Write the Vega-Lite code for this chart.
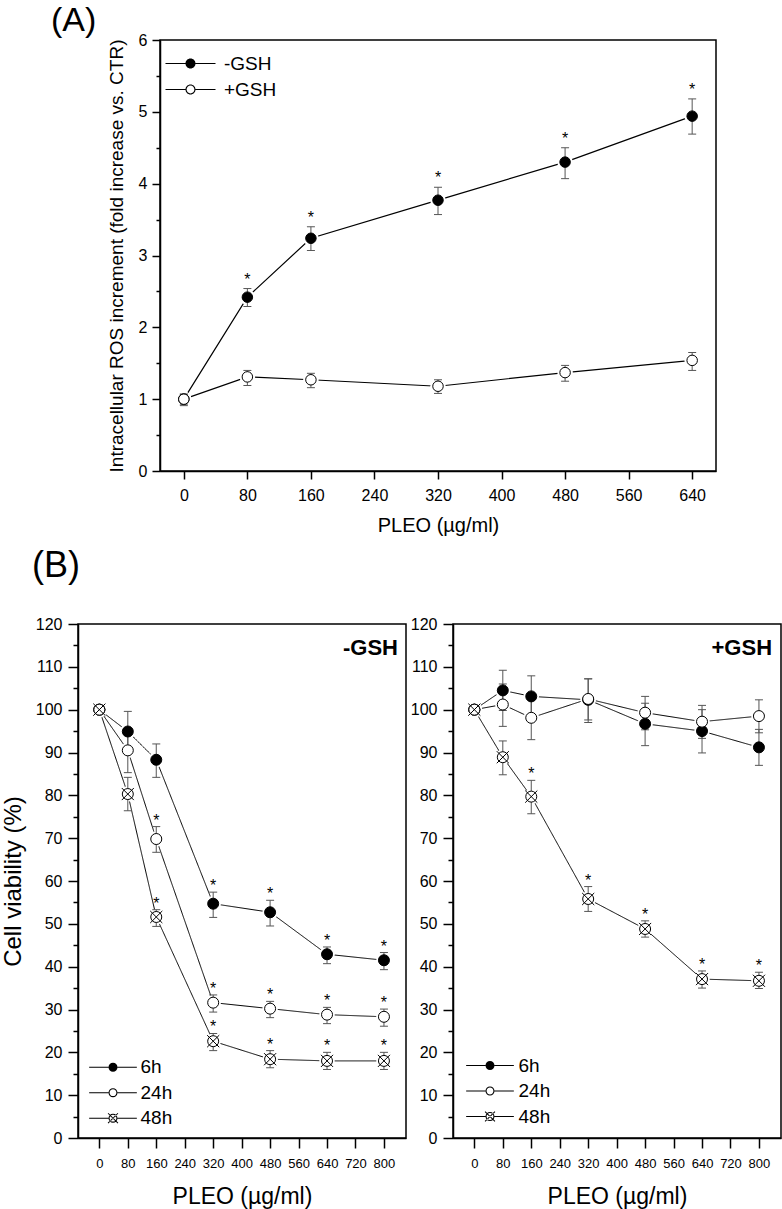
{
  "$schema": "https://vega.github.io/schema/vega-lite/v6.json",
  "background": "white",
  "padding": {"top": 3, "left": 0, "right": 0, "bottom": 0},
  "bounds": "flush",
  "spacing": 584,
  "resolve": {"scale": {"shape": "independent", "fill": "independent", "strokeDash": "independent"}, "legend": {"shape": "independent", "fill": "independent", "strokeDash": "independent"}},
  "vconcat": [
    {
      "bounds": "flush",
      "spacing": 20,
      "resolve": {"scale": {"shape": "independent", "fill": "independent", "strokeDash": "independent"}, "legend": {"shape": "independent", "fill": "independent", "strokeDash": "independent"}},
      "hconcat": [
        {
          "width": 62, "height": 431,
          "data": {"values": [{"a": 1}]},
          "mark": {"type": "text", "text": " "},
          "encoding": {},
          "view": {"stroke": null}
        },
        {
          "width": 556, "height": 431,
          "title": {"text": "(A)", "anchor": "start", "frame": "group", "fontSize": 34, "fontWeight": "normal", "baseline": "bottom", "offset": -40, "dx": -109},
          "data": {"name": "ros"},
          "encoding": {
            "x": {"field": "dose", "type": "quantitative", "scale": {"domain": [-30, 670], "nice": false, "zero": false},
              "axis": {"values": [0, 80, 160, 240, 320, 400, 480, 560, 640], "title": "PLEO (µg/ml)", "tickSize": 8, "labelFontSize": 16, "labelPadding": 8, "titleFontSize": 20, "titlePadding": 12, "labelFlush": false, "labelOverlap": false}}
          },
          "layer": [
            {
              "mark": {"type": "line", "color": "black", "strokeWidth": 1.2},
              "encoding": {
                "y": {"field": "mean", "type": "quantitative", "scale": {"domain": [0, 6], "nice": false}, "axis": null},
                "detail": {"field": "group"}
              }
            },
            {
              "mark": {"type": "point", "filled": true, "color": "white", "size": 240, "opacity": 1, "strokeWidth": 0},
              "encoding": {
                "y": {"field": "mean", "type": "quantitative", "axis": {"orient": "left", "values": [0.5, 1.5, 2.5, 3.5, 4.5, 5.5], "labels": false, "domain": false, "tickSize": 4, "title": null}}
              }
            },
            {
              "mark": {"type": "rule", "color": "#555555", "strokeWidth": 1},
              "encoding": {
                "y": {"field": "lo", "type": "quantitative", "axis": null},
                "y2": {"field": "hi"}
              }
            },
            {
              "transform": [{"fold": ["lo", "hi"], "as": ["end", "v"]}],
              "mark": {"type": "tick", "orient": "horizontal", "color": "#555555", "size": 8, "thickness": 1, "opacity": 1},
              "encoding": {
                "y": {"field": "v", "type": "quantitative", "axis": null}
              }
            },
            {
              "mark": {"type": "point", "filled": true, "size": 110, "stroke": "black", "strokeWidth": 1, "opacity": 1},
              "encoding": {
                "y": {"field": "mean", "type": "quantitative", "axis": {"orient": "left", "values": [0, 1, 2, 3, 4, 5, 6], "title": "Intracellular ROS increment (fold increase vs. CTR)", "tickSize": 8, "labelFontSize": 16, "labelPadding": 5, "titleFontSize": 19, "titlePadding": 12, "labelFlush": false}},
                "shape": {"field": "group", "type": "nominal", "scale": {"domain": ["-GSH", "+GSH"], "range": ["circle", "circle"]}, "legend": null},
                "fill": {"field": "group", "type": "nominal", "scale": {"domain": ["-GSH", "+GSH"], "range": ["black", "white"]}, "legend": null}
              }
            },
            {
              "transform": [{"filter": "false"}],
              "mark": {"type": "point", "filled": true, "color": "black", "opacity": 1, "strokeWidth": 0},
              "encoding": {
                "y": {"field": "mean", "type": "quantitative", "axis": null},
                "shape": {"field": "group", "type": "nominal",
                  "scale": {"domain": ["-GSH", "+GSH"], "range": [
                    "M-5,-0.1H-1V0.1H-5Z M1,-0.1H5V0.1H1Z M-1,0A1,1,0,1,1,1,0A1,1,0,1,1,-1,0Z",
                    "M-5,-0.1H-1V0.1H-5Z M1,-0.1H5V0.1H1Z M-1,0A1,1,0,1,1,1,0A1,1,0,1,1,-1,0Z M-0.78,0A0.78,0.78,0,1,0,0.78,0A0.78,0.78,0,1,0,-0.78,0Z"]},
                  "legend": {"title": null, "orient": "none", "legendX": 21, "legendY": 14, "labelFontSize": 19, "labelColor": "black", "symbolSize": 100, "labelOffset": 24, "rowPadding": 6, "padding": 0, "symbolStrokeWidth": 0, "symbolFillColor": "black"}}
              }
            },
            {
              "transform": [{"filter": "datum.sig"}],
              "mark": {"type": "text", "text": "*", "fontSize": 16, "baseline": "alphabetic", "dy": -4, "color": "black"},
              "encoding": {
                "y": {"field": "hi", "type": "quantitative", "axis": null}
              }
            }
          ],
          "resolve": {"scale": {"shape": "independent", "fill": "independent"}, "axis": {"y": "independent"}}
        }
      ]
    },
    {
      "bounds": "flush",
      "spacing": 47,
      "resolve": {"scale": {"shape": "independent", "fill": "independent", "strokeDash": "independent"}, "legend": {"shape": "independent", "fill": "independent", "strokeDash": "independent"}},
      "hconcat": [
        {
          "width": 328, "height": 514,
          "title": {"text": "(B)", "anchor": "start", "frame": "group", "fontSize": 36, "fontWeight": "normal", "baseline": "bottom", "offset": -5, "dx": -46},
          "data": {"name": "via"},
          "transform": [{"filter": "datum.panel === '-GSH'"}],
          "encoding": {
            "x": {"field": "dose", "type": "quantitative", "scale": {"domain": [-60, 862], "nice": false, "zero": false},
              "axis": {"values": [0, 80, 160, 240, 320, 400, 480, 560, 640, 720, 800], "title": "PLEO (µg/ml)", "tickSize": 10, "labelFontSize": 13, "labelPadding": 9, "titleFontSize": 23, "titlePadding": 15, "labelFlush": false, "labelOverlap": false}}
          },
          "layer": [
            {
              "mark": {"type": "line", "color": "black", "strokeWidth": 1},
              "encoding": {
                "y": {"field": "mean", "type": "quantitative", "scale": {"domain": [0, 120], "nice": false}, "axis": null},
                "detail": {"field": "time"},
                "strokeDash": {"field": "panel", "type": "nominal", "scale": {"domain": ["-GSH"], "range": [[1, 0]]},
                  "legend": {"title": null, "orient": "none", "legendX": 243, "legendY": 13, "labelFontSize": 22, "labelFontWeight": "bold", "labelColor": "black", "symbolSize": 1, "symbolOpacity": 0, "symbolStrokeWidth": 0, "labelOffset": 0, "padding": 0}}
              }
            },
            {
              "mark": {"type": "point", "filled": true, "color": "white", "size": 240, "opacity": 1, "strokeWidth": 0},
              "encoding": {
                "y": {"field": "mean", "type": "quantitative", "axis": {"orient": "left", "values": [5, 15, 25, 35, 45, 55, 65, 75, 85, 95, 105, 115], "labels": false, "domain": false, "tickSize": 5, "title": null}}
              }
            },
            {
              "mark": {"type": "rule", "color": "#555555", "strokeWidth": 1},
              "encoding": {
                "y": {"field": "lo", "type": "quantitative", "axis": null},
                "y2": {"field": "hi"}
              }
            },
            {
              "transform": [{"fold": ["lo", "hi"], "as": ["end", "v"]}],
              "mark": {"type": "tick", "orient": "horizontal", "color": "#555555", "size": 8, "thickness": 1, "opacity": 1},
              "encoding": {
                "y": {"field": "v", "type": "quantitative", "axis": null}
              }
            },
            {
              "mark": {"type": "point", "filled": true, "size": 121, "stroke": "black", "strokeWidth": 1, "opacity": 1},
              "encoding": {
                "y": {"field": "mean", "type": "quantitative", "axis": {"orient": "left", "values": [0, 10, 20, 30, 40, 50, 60, 70, 80, 90, 100, 110, 120], "title": "Cell viability (%)", "tickSize": 10, "labelFontSize": 16, "labelPadding": 6, "titleFontSize": 24, "titlePadding": 10, "labelFlush": false}},
                "shape": {"field": "time", "type": "nominal", "scale": {"domain": ["6h", "24h", "48h"], "range": ["circle", "circle", "M-1,0A1,1,0,1,1,1,0A1,1,0,1,1,-1,0M-1.1,-1.1L1.1,1.1M-1.1,1.1L1.1,-1.1"]}, "legend": null},
                "fill": {"field": "time", "type": "nominal", "scale": {"domain": ["6h", "24h", "48h"], "range": ["black", "white", "white"]}, "legend": null}
              }
            },
            {
              "transform": [{"filter": "false"}],
              "mark": {"type": "point", "filled": true, "color": "black", "opacity": 1, "strokeWidth": 0},
              "encoding": {
                "y": {"field": "mean", "type": "quantitative", "axis": null},
                "shape": {"field": "time", "type": "nominal",
                  "scale": {"domain": ["6h", "24h", "48h"], "range": [
                    "M-5.3,-0.11H-1V0.11H-5.3Z M1,-0.11H5.3V0.11H1Z M-1,0A1,1,0,1,1,1,0A1,1,0,1,1,-1,0Z",
                    "M-5.3,-0.11H-1V0.11H-5.3Z M1,-0.11H5.3V0.11H1Z M-1,0A1,1,0,1,1,1,0A1,1,0,1,1,-1,0Z M-0.76,0A0.76,0.76,0,1,0,0.76,0A0.76,0.76,0,1,0,-0.76,0Z",
                    "M-5.3,-0.11H-1V0.11H-5.3Z M1,-0.11H5.3V0.11H1Z M-1,0A1,1,0,1,1,1,0A1,1,0,1,1,-1,0Z M-0.76,0A0.76,0.76,0,1,0,0.76,0A0.76,0.76,0,1,0,-0.76,0Z M-1.022,-1.178L1.178,1.022L1.022,1.178L-1.178,-1.022Z M-1.022,1.178L1.178,-1.022L1.022,-1.178L-1.178,1.022Z"]},
                  "legend": {"title": null, "orient": "none", "legendX": 25.5, "legendY": 433.7, "labelFontSize": 19, "labelColor": "black", "symbolSize": 81, "labelOffset": 18, "rowPadding": 5.5, "padding": 0, "symbolStrokeWidth": 0, "symbolFillColor": "black"}}
              }
            },
            {
              "transform": [{"filter": "datum.sig"}],
              "mark": {"type": "text", "text": "*", "fontSize": 16, "baseline": "alphabetic", "dy": -1, "color": "black"},
              "encoding": {
                "y": {"field": "hi", "type": "quantitative", "axis": null}
              }
            }
          ],
          "resolve": {"scale": {"shape": "independent", "fill": "independent"}, "axis": {"y": "independent"}}
        },
        {
          "width": 328, "height": 514,
          "data": {"name": "via"},
          "transform": [{"filter": "datum.panel === '+GSH'"}],
          "encoding": {
            "x": {"field": "dose", "type": "quantitative", "scale": {"domain": [-60, 862], "nice": false, "zero": false},
              "axis": {"values": [0, 80, 160, 240, 320, 400, 480, 560, 640, 720, 800], "title": "PLEO (µg/ml)", "tickSize": 10, "labelFontSize": 13, "labelPadding": 9, "titleFontSize": 23, "titlePadding": 15, "labelFlush": false, "labelOverlap": false}}
          },
          "layer": [
            {
              "mark": {"type": "line", "color": "black", "strokeWidth": 1},
              "encoding": {
                "y": {"field": "mean", "type": "quantitative", "scale": {"domain": [0, 120], "nice": false}, "axis": null},
                "detail": {"field": "time"},
                "strokeDash": {"field": "panel", "type": "nominal", "scale": {"domain": ["+GSH"], "range": [[1, 0]]},
                  "legend": {"title": null, "orient": "none", "legendX": 236.5, "legendY": 13, "labelFontSize": 22, "labelFontWeight": "bold", "labelColor": "black", "symbolSize": 1, "symbolOpacity": 0, "symbolStrokeWidth": 0, "labelOffset": 0, "padding": 0}}
              }
            },
            {
              "mark": {"type": "point", "filled": true, "color": "white", "size": 240, "opacity": 1, "strokeWidth": 0},
              "encoding": {
                "y": {"field": "mean", "type": "quantitative", "axis": {"orient": "left", "values": [5, 15, 25, 35, 45, 55, 65, 75, 85, 95, 105, 115], "labels": false, "domain": false, "tickSize": 5, "title": null}}
              }
            },
            {
              "mark": {"type": "rule", "color": "#555555", "strokeWidth": 1},
              "encoding": {
                "y": {"field": "lo", "type": "quantitative", "axis": null},
                "y2": {"field": "hi"}
              }
            },
            {
              "transform": [{"fold": ["lo", "hi"], "as": ["end", "v"]}],
              "mark": {"type": "tick", "orient": "horizontal", "color": "#555555", "size": 8, "thickness": 1, "opacity": 1},
              "encoding": {
                "y": {"field": "v", "type": "quantitative", "axis": null}
              }
            },
            {
              "mark": {"type": "point", "filled": true, "size": 121, "stroke": "black", "strokeWidth": 1, "opacity": 1},
              "encoding": {
                "y": {"field": "mean", "type": "quantitative", "axis": {"orient": "left", "values": [0, 10, 20, 30, 40, 50, 60, 70, 80, 90, 100, 110, 120], "title": null, "tickSize": 10, "labelFontSize": 16, "labelPadding": 6, "labelFlush": false}},
                "shape": {"field": "time", "type": "nominal", "scale": {"domain": ["6h", "24h", "48h"], "range": ["circle", "circle", "M-1,0A1,1,0,1,1,1,0A1,1,0,1,1,-1,0M-1.1,-1.1L1.1,1.1M-1.1,1.1L1.1,-1.1"]}, "legend": null},
                "fill": {"field": "time", "type": "nominal", "scale": {"domain": ["6h", "24h", "48h"], "range": ["black", "white", "white"]}, "legend": null}
              }
            },
            {
              "transform": [{"filter": "false"}],
              "mark": {"type": "point", "filled": true, "color": "black", "opacity": 1, "strokeWidth": 0},
              "encoding": {
                "y": {"field": "mean", "type": "quantitative", "axis": null},
                "shape": {"field": "time", "type": "nominal",
                  "scale": {"domain": ["6h", "24h", "48h"], "range": [
                    "M-5.3,-0.11H-1V0.11H-5.3Z M1,-0.11H5.3V0.11H1Z M-1,0A1,1,0,1,1,1,0A1,1,0,1,1,-1,0Z",
                    "M-5.3,-0.11H-1V0.11H-5.3Z M1,-0.11H5.3V0.11H1Z M-1,0A1,1,0,1,1,1,0A1,1,0,1,1,-1,0Z M-0.76,0A0.76,0.76,0,1,0,0.76,0A0.76,0.76,0,1,0,-0.76,0Z",
                    "M-5.3,-0.11H-1V0.11H-5.3Z M1,-0.11H5.3V0.11H1Z M-1,0A1,1,0,1,1,1,0A1,1,0,1,1,-1,0Z M-0.76,0A0.76,0.76,0,1,0,0.76,0A0.76,0.76,0,1,0,-0.76,0Z M-1.022,-1.178L1.178,1.022L1.022,1.178L-1.178,-1.022Z M-1.022,1.178L1.178,-1.022L1.022,-1.178L-1.178,1.022Z"]},
                  "legend": {"title": null, "orient": "none", "legendX": 27.5, "legendY": 432, "labelFontSize": 19, "labelColor": "black", "symbolSize": 81, "labelOffset": 19, "rowPadding": 5.5, "padding": 0, "symbolStrokeWidth": 0, "symbolFillColor": "black"}}
              }
            },
            {
              "transform": [{"filter": "datum.sig"}],
              "mark": {"type": "text", "text": "*", "fontSize": 16, "baseline": "alphabetic", "dy": -1, "color": "black"},
              "encoding": {
                "y": {"field": "hi", "type": "quantitative", "axis": null}
              }
            }
          ],
          "resolve": {"scale": {"shape": "independent", "fill": "independent"}, "axis": {"y": "independent"}}
        }
      ]
    }
  ],
  "datasets": {
    "ros": [
      {"group": "-GSH", "dose": 0, "mean": 1.0, "lo": 0.93, "hi": 1.07, "sig": false},
      {"group": "-GSH", "dose": 80, "mean": 2.42, "lo": 2.29, "hi": 2.54, "sig": true},
      {"group": "-GSH", "dose": 160, "mean": 3.24, "lo": 3.07, "hi": 3.40, "sig": true},
      {"group": "-GSH", "dose": 320, "mean": 3.77, "lo": 3.57, "hi": 3.95, "sig": true},
      {"group": "-GSH", "dose": 480, "mean": 4.30, "lo": 4.07, "hi": 4.50, "sig": true},
      {"group": "-GSH", "dose": 640, "mean": 4.94, "lo": 4.69, "hi": 5.18, "sig": true},
      {"group": "+GSH", "dose": 0, "mean": 1.0, "lo": 0.91, "hi": 1.07, "sig": false},
      {"group": "+GSH", "dose": 80, "mean": 1.31, "lo": 1.19, "hi": 1.40, "sig": false},
      {"group": "+GSH", "dose": 160, "mean": 1.27, "lo": 1.16, "hi": 1.36, "sig": false},
      {"group": "+GSH", "dose": 320, "mean": 1.18, "lo": 1.08, "hi": 1.27, "sig": false},
      {"group": "+GSH", "dose": 480, "mean": 1.37, "lo": 1.25, "hi": 1.47, "sig": false},
      {"group": "+GSH", "dose": 640, "mean": 1.54, "lo": 1.40, "hi": 1.65, "sig": false}
    ],
    "via": [
      {"panel": "-GSH", "time": "6h", "dose": 0, "mean": 100, "lo": 99.3, "hi": 100.7, "sig": false},
      {"panel": "-GSH", "time": "6h", "dose": 80, "mean": 94.9, "lo": 90.2, "hi": 99.6, "sig": false},
      {"panel": "-GSH", "time": "6h", "dose": 160, "mean": 88.3, "lo": 84.2, "hi": 92.0, "sig": false},
      {"panel": "-GSH", "time": "6h", "dose": 320, "mean": 54.7, "lo": 51.5, "hi": 57.4, "sig": true},
      {"panel": "-GSH", "time": "6h", "dose": 480, "mean": 52.7, "lo": 49.5, "hi": 55.5, "sig": true},
      {"panel": "-GSH", "time": "6h", "dose": 640, "mean": 42.9, "lo": 40.7, "hi": 44.6, "sig": true},
      {"panel": "-GSH", "time": "6h", "dose": 800, "mean": 41.5, "lo": 39.3, "hi": 43.3, "sig": true},
      {"panel": "-GSH", "time": "24h", "dose": 0, "mean": 100, "lo": 99.3, "hi": 100.7, "sig": false},
      {"panel": "-GSH", "time": "24h", "dose": 80, "mean": 90.5, "lo": 85.3, "hi": 95.5, "sig": false},
      {"panel": "-GSH", "time": "24h", "dose": 160, "mean": 69.8, "lo": 66.7, "hi": 72.7, "sig": true},
      {"panel": "-GSH", "time": "24h", "dose": 320, "mean": 31.6, "lo": 29.4, "hi": 33.4, "sig": true},
      {"panel": "-GSH", "time": "24h", "dose": 480, "mean": 30.2, "lo": 28.1, "hi": 31.9, "sig": true},
      {"panel": "-GSH", "time": "24h", "dose": 640, "mean": 28.8, "lo": 26.7, "hi": 30.5, "sig": true},
      {"panel": "-GSH", "time": "24h", "dose": 800, "mean": 28.3, "lo": 26.1, "hi": 30.1, "sig": true},
      {"panel": "-GSH", "time": "48h", "dose": 0, "mean": 100, "lo": 99.3, "hi": 100.7, "sig": false},
      {"panel": "-GSH", "time": "48h", "dose": 80, "mean": 80.3, "lo": 76.4, "hi": 84.2, "sig": false},
      {"panel": "-GSH", "time": "48h", "dose": 160, "mean": 51.6, "lo": 49.4, "hi": 53.3, "sig": true},
      {"panel": "-GSH", "time": "48h", "dose": 320, "mean": 22.6, "lo": 20.4, "hi": 24.4, "sig": true},
      {"panel": "-GSH", "time": "48h", "dose": 480, "mean": 18.4, "lo": 16.4, "hi": 20.4, "sig": true},
      {"panel": "-GSH", "time": "48h", "dose": 640, "mean": 18.0, "lo": 16.0, "hi": 20.0, "sig": true},
      {"panel": "-GSH", "time": "48h", "dose": 800, "mean": 18.0, "lo": 16.0, "hi": 20.0, "sig": true},
      {"panel": "+GSH", "time": "6h", "dose": 0, "mean": 100, "lo": 99.3, "hi": 100.7, "sig": false},
      {"panel": "+GSH", "time": "6h", "dose": 80, "mean": 104.5, "lo": 99.8, "hi": 109.2, "sig": false},
      {"panel": "+GSH", "time": "6h", "dose": 160, "mean": 103.1, "lo": 98.3, "hi": 107.9, "sig": false},
      {"panel": "+GSH", "time": "6h", "dose": 320, "mean": 102.3, "lo": 97.0, "hi": 107.2, "sig": false},
      {"panel": "+GSH", "time": "6h", "dose": 480, "mean": 96.7, "lo": 91.6, "hi": 101.5, "sig": false},
      {"panel": "+GSH", "time": "6h", "dose": 640, "mean": 95.0, "lo": 89.9, "hi": 100.0, "sig": false},
      {"panel": "+GSH", "time": "6h", "dose": 800, "mean": 91.2, "lo": 87.0, "hi": 95.4, "sig": false},
      {"panel": "+GSH", "time": "24h", "dose": 0, "mean": 100, "lo": 99.3, "hi": 100.7, "sig": false},
      {"panel": "+GSH", "time": "24h", "dose": 80, "mean": 101.2, "lo": 96.1, "hi": 106.0, "sig": false},
      {"panel": "+GSH", "time": "24h", "dose": 160, "mean": 98.1, "lo": 93.0, "hi": 103.0, "sig": false},
      {"panel": "+GSH", "time": "24h", "dose": 320, "mean": 102.5, "lo": 97.6, "hi": 107.2, "sig": false},
      {"panel": "+GSH", "time": "24h", "dose": 480, "mean": 99.3, "lo": 95.3, "hi": 103.1, "sig": false},
      {"panel": "+GSH", "time": "24h", "dose": 640, "mean": 97.2, "lo": 93.3, "hi": 101.0, "sig": false},
      {"panel": "+GSH", "time": "24h", "dose": 800, "mean": 98.5, "lo": 94.6, "hi": 102.3, "sig": false},
      {"panel": "+GSH", "time": "48h", "dose": 0, "mean": 100, "lo": 99.3, "hi": 100.7, "sig": false},
      {"panel": "+GSH", "time": "48h", "dose": 80, "mean": 88.9, "lo": 84.8, "hi": 92.7, "sig": false},
      {"panel": "+GSH", "time": "48h", "dose": 160, "mean": 79.7, "lo": 75.7, "hi": 83.5, "sig": true},
      {"panel": "+GSH", "time": "48h", "dose": 320, "mean": 55.8, "lo": 52.9, "hi": 58.7, "sig": true},
      {"panel": "+GSH", "time": "48h", "dose": 480, "mean": 48.8, "lo": 46.9, "hi": 50.7, "sig": true},
      {"panel": "+GSH", "time": "48h", "dose": 640, "mean": 37.1, "lo": 35.0, "hi": 39.0, "sig": true},
      {"panel": "+GSH", "time": "48h", "dose": 800, "mean": 36.7, "lo": 34.9, "hi": 38.7, "sig": true}
    ]
  },
  "config": {
    "font": "Liberation Sans",
    "view": {"stroke": "black", "strokeWidth": 1.5},
    "axis": {"domainColor": "black", "domainWidth": 1.5, "tickColor": "black", "tickWidth": 1.5, "labelColor": "black", "titleColor": "black", "grid": false, "titleFontWeight": "normal", "labelFont": "Liberation Sans", "titleFont": "Liberation Sans"},
    "title": {"color": "black", "font": "Liberation Sans"},
    "legend": {"labelFont": "Liberation Sans"}
  }
}
